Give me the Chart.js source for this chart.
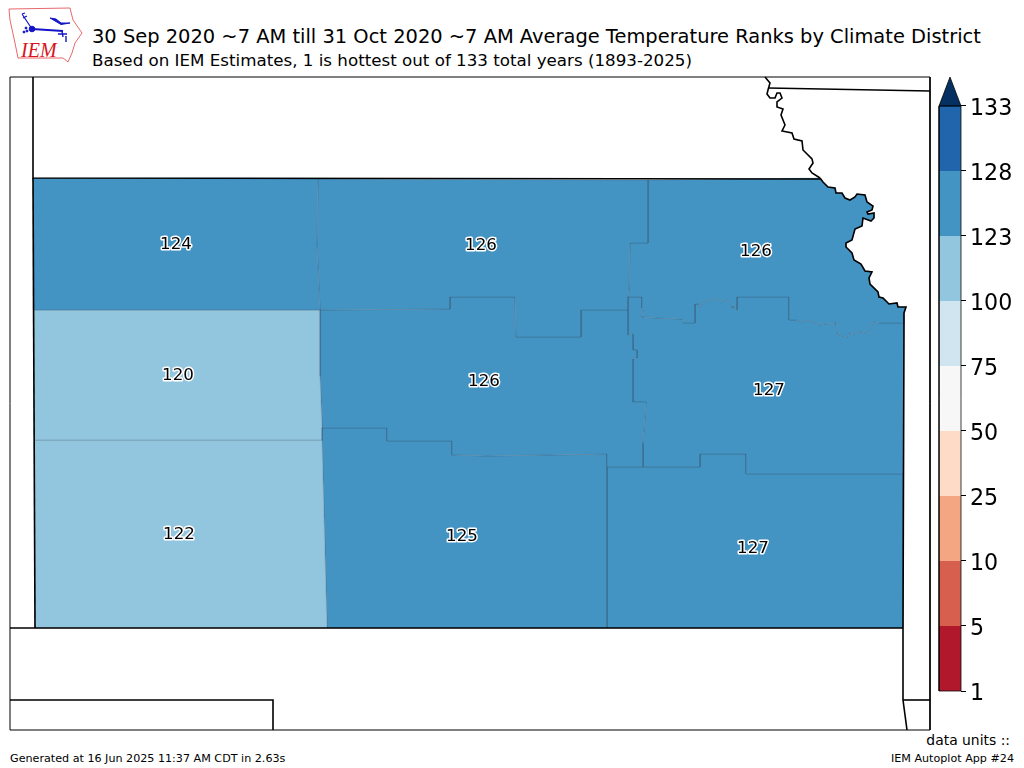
<!DOCTYPE html>
<html>
<head>
<meta charset="utf-8">
<title>Average Temperature Ranks by Climate District</title>
<script src="https://cdn.jsdelivr.net/npm/chart.js@4"></script>
<style>
  html, body { margin: 0; padding: 0; background: #fff; }
  body { width: 1024px; height: 768px; position: relative; overflow: hidden; font-family: "DejaVu Sans", sans-serif; color: #000; }
  canvas { position: absolute; }
  #mapChart { left: 0; top: 0; }
  #barChart { left: 930px; top: 30px; }
  .txt { position: absolute; white-space: nowrap; line-height: 1; }
  #title { left: 92px; top: 27px; font-size: 19.45px; }
  #subtitle { left: 92px; top: 52px; font-size: 16.7px; }
  #gen { left: 10px; top: 753px; font-size: 11.15px; }
  #units { right: 14px; top: 734px; font-size: 13.9px; }
  #app { right: 10px; top: 753px; font-size: 11.15px; }
  #logo { position: absolute; left: 0; top: 0; }
</style>
</head>
<body>
<svg id="logo" width="90" height="70">
  <path d="M9 9 L70 8 L73 20 L82 33 L75 43 L72 53 L68 62 L63 58 L18 58 L15 43 L10 20 Z" fill="none" stroke="#e8686c" stroke-width="1"/>
  <g stroke="#1414c8" fill="#1414c8">
    <path d="M32 29 L63 31" stroke-width="2"/>
    <circle cx="32" cy="29" r="2.8"/>
    <path d="M32 29 L22 14 M22 14 L25 13 M23 18 L27 16" stroke-width="1.2" fill="none"/>
    <path d="M62 31 L63 37 M58 34 L67 34 M66 36 L66 42" stroke-width="1.4" fill="none"/>
    <path d="M50 18 L56 19 L61 23 L70 23 L61 24.5 Z"/>
    <circle cx="24" cy="32" r="1"/><circle cx="27" cy="31" r="1"/><circle cx="26" cy="28" r="1"/>
  </g>
  <text x="21" y="57" font-family="Liberation Serif" font-style="italic" font-size="20" fill="#d8141c">IEM</text>
</svg>
<div class="txt" id="title">30 Sep 2020 ~7 AM till 31 Oct 2020 ~7 AM Average Temperature Ranks by Climate District</div>
<div class="txt" id="subtitle">Based on IEM Estimates, 1 is hottest out of 133 total years (1893-2025)</div>
<div class="txt" id="gen">Generated at 16 Jun 2025 11:37 AM CDT in 2.63s</div>
<div class="txt" id="units">data units ::</div>
<div class="txt" id="app">IEM Autoplot App #24</div>
<canvas id="mapChart" width="1024" height="768"></canvas>
<canvas id="barChart" width="94" height="690"></canvas>
<script>
//colour bins
const binEdges = [1, 5, 10, 25, 50, 75, 100, 123, 128, 133]
const binColors = ['#b2182b', '#d6604d', '#f4a582', '#fddbc7', '#f7f7f7', '#d1e5f0', '#92c5de', '#4393c3', '#2166ac']
const overColor = '#053061'

//district ranks and where their labels sit on the map grid
const districtNames = ['NW', 'NC', 'NE', 'WC', 'C', 'EC', 'SW', 'SC', 'SE']
const districtRanks = [124, 126, 126, 120, 126, 127, 122, 125, 127]
const labelX = [176, 481, 756, 178, 484, 769, 179, 462, 753]
const labelY = [244, 245, 251, 375, 381, 390, 534, 536, 548]

//map grid boundaries, shared between neighbours
const mapFrame = [[10, 77], [930, 77], [930, 730], [10, 730], [10, 77]]
const riverNorth = [[765, 77], [770, 83], [768, 90], [767, 94], [770, 98], [775, 98], [777, 93], [780, 93], [782, 98], [777, 102], [777, 107], [783, 109], [781, 115], [785, 125], [782, 131], [792, 133], [794, 139], [802, 141], [803, 150], [812, 159], [813, 163], [809, 169], [812, 173], [820, 178]]
const riverKansas = [[820, 178], [823, 182], [828, 187], [835, 188], [836, 193], [842, 193], [845, 198], [850, 200], [855, 197], [857, 194], [865, 195], [867, 202], [873, 206], [872, 210], [867, 212], [868, 214], [874, 213], [874, 218], [871, 221], [863, 218], [862, 226], [855, 229], [852, 240], [846, 243], [846, 247], [852, 253], [854, 260], [861, 264], [865, 271], [872, 272], [869, 278], [870, 284], [878, 292], [879, 297], [883, 298], [889, 304], [897, 303], [898, 307], [906, 307], [904, 313], [904, 323]]
const nwToNc = [[318, 179], [317, 245], [320, 310]]
const ncToNe = [[648, 180], [648, 243], [630, 243], [629, 290], [628, 297]]
const ncToCentral = [[320, 310], [450, 309], [450, 297], [515, 297], [516, 337], [581, 337], [581, 310], [628, 310]]
const centralToEc = [[628, 310], [628, 335], [633, 334], [633, 350], [637, 350], [637, 358], [633, 359], [633, 402], [646, 402], [645, 417], [643, 443], [643, 467]]
const neToEc = [[628, 297], [642, 297], [642, 308], [643, 310], [642, 317], [657, 318], [682, 319], [683, 323], [695, 323], [695, 304], [699, 304], [700, 307], [705, 300], [707, 302], [715, 298], [720, 302], [727, 300], [735, 307], [731, 307], [737, 310], [737, 297], [789, 297], [789, 320], [797, 320], [802, 322], [808, 320], [820, 325], [825, 324], [836, 323], [837, 334], [843, 336], [848, 337], [849, 333], [855, 334], [857, 331], [865, 333], [868, 332], [873, 322], [880, 323], [904, 323]]
const ecToSe = [[643, 467], [700, 467], [700, 454], [746, 454], [746, 474], [903, 474]]
const wcToCentral = [[320, 310], [320, 376], [322, 428]]
const centralToSc = [[322, 428], [387, 428], [387, 441], [452, 441], [452, 455], [487, 456], [607, 454], [607, 467]]

const back = (line) => line.slice().reverse()

//the nine districts, same order as districtNames
const districtShapes = [
  [[33, 178]].concat(nwToNc, [[33, 310]]),
  [[318, 179]].concat(ncToNe, [[628, 310]], back(ncToCentral), back(nwToNc)),
  [[648, 180]].concat(riverKansas, back(neToEc), back(ncToNe)),
  [[33, 310]].concat(wcToCentral, [[322, 440], [34, 440]]),
  ncToCentral.concat(centralToEc, back(centralToSc), back(wcToCentral)),
  neToEc.concat(back(ecToSe), back(centralToEc)),
  [[34, 440], [322, 440], [327, 628], [35, 628]],
  centralToSc.concat([[607, 628], [327, 628], [322, 440]]),
  [[607, 467]].concat(ecToSe, [[903, 628], [607, 628]])
]

//state lines drawn on top
const stateLines = [
  [[33, 77], [33, 178], [820, 179]],
  [[33, 178], [35, 628]],
  [[10, 628], [903, 628]],
  [[904, 323], [903, 628], [903, 700], [907, 730]],
  [[10, 700], [273, 700], [273, 730]],
  [[903, 700], [930, 700]],
  [[768, 88], [930, 91]],
  riverNorth,
  riverKansas
]

function rankColor(rank) {
  for (var i = 0; i < binColors.length; i++) {
    if (rank >= binEdges[i] && rank < binEdges[i + 1]) return binColors[i]
  }
  return overColor
}

function toPoints(line) {
  return line.map(p => ({ x: p[0], y: p[1] }))
}

var mapSets = []
stateLines.forEach(line => {
  mapSets.push({ data: toPoints(line), borderColor: '#000', borderWidth: 1.6, fill: false })
})
mapSets.push({ data: toPoints(mapFrame), borderColor: '#000', borderWidth: 1, fill: false })
districtShapes.forEach((shape, i) => {
  mapSets.push({
    data: toPoints(shape.concat([shape[0]])),
    borderColor: 'rgba(60,60,70,0.38)',
    borderWidth: 0.5,
    backgroundColor: rankColor(districtRanks[i]),
    fill: 'shape'
  })
})

const rankLabels = {
  id: 'rankLabels',
  afterDatasetsDraw(chart) {
    const ctx = chart.ctx
    ctx.save()
    ctx.font = '16.7px "DejaVu Sans"'
    ctx.textAlign = 'center'
    ctx.textBaseline = 'middle'
    ctx.lineJoin = 'round'
    districtRanks.forEach((rank, i) => {
      const x = chart.scales.x.getPixelForValue(labelX[i])
      const y = chart.scales.y.getPixelForValue(labelY[i]) + 1
      ctx.lineWidth = 3
      ctx.strokeStyle = '#fff'
      ctx.strokeText(rank, x, y)
      ctx.fillStyle = '#000'
      ctx.fillText(rank, x, y)
    })
    ctx.restore()
  }
}

new Chart(document.getElementById('mapChart'), {
  type: 'scatter',
  data: { datasets: mapSets },
  plugins: [rankLabels],
  options: {
    responsive: false,
    animation: false,
    layout: { padding: 0 },
    plugins: { legend: { display: false }, tooltip: { enabled: false } },
    elements: { point: { radius: 0 }, line: { tension: 0 } },
    datasets: { scatter: { showLine: true } },
    scales: {
      x: { display: false, min: 0, max: 1024 },
      y: { display: false, min: 0, max: 768, reverse: true }
    }
  }
})

//colour bar, one box per bin plus the triangle on top
var barSets = []
barSets.push({
  data: toPoints([[0, 0], [1, 0], [1, 9], [0, 9], [0, 0]]),
  borderColor: 'rgba(0,0,0,0.75)', borderWidth: 1, fill: false
})
barSets.push({
  data: toPoints([[0, 9], [1, 9], [0.5, 9.446], [0, 9]]),
  borderColor: 'rgba(0,0,0,0.75)', borderWidth: 1, backgroundColor: overColor, fill: 'shape'
})
binColors.forEach((color, i) => {
  barSets.push({
    data: toPoints([[0, i], [1, i], [1, i + 1], [0, i + 1], [0, i]]),
    borderColor: color, borderWidth: 0, backgroundColor: color, fill: 'shape'
  })
})

new Chart(document.getElementById('barChart'), {
  type: 'scatter',
  data: { datasets: barSets },
  options: {
    responsive: false,
    animation: false,
    layout: { padding: { top: 47, bottom: 29, left: 9, right: 0 } },
    plugins: { legend: { display: false }, tooltip: { enabled: false } },
    elements: { point: { radius: 0 }, line: { tension: 0 } },
    datasets: { scatter: { showLine: true, clip: false } },
    scales: {
      x: { display: false, min: 0, max: 1 },
      y: {
        position: 'right',
        min: 0,
        max: 9.446,
        afterFit: scale => { scale.width = 63 },
        border: { display: false },
        grid: { drawOnChartArea: false, drawTicks: true, tickLength: 5, color: '#000' },
        ticks: {
          stepSize: 1,
          includeBounds: false,
          autoSkip: false,
          padding: 4,
          labelOffset: 3,
          color: '#000',
          font: { family: 'DejaVu Sans', size: 22.2 },
          callback: v => binEdges[v]
        }
      }
    }
  }
})
</script>
</body>
</html>
